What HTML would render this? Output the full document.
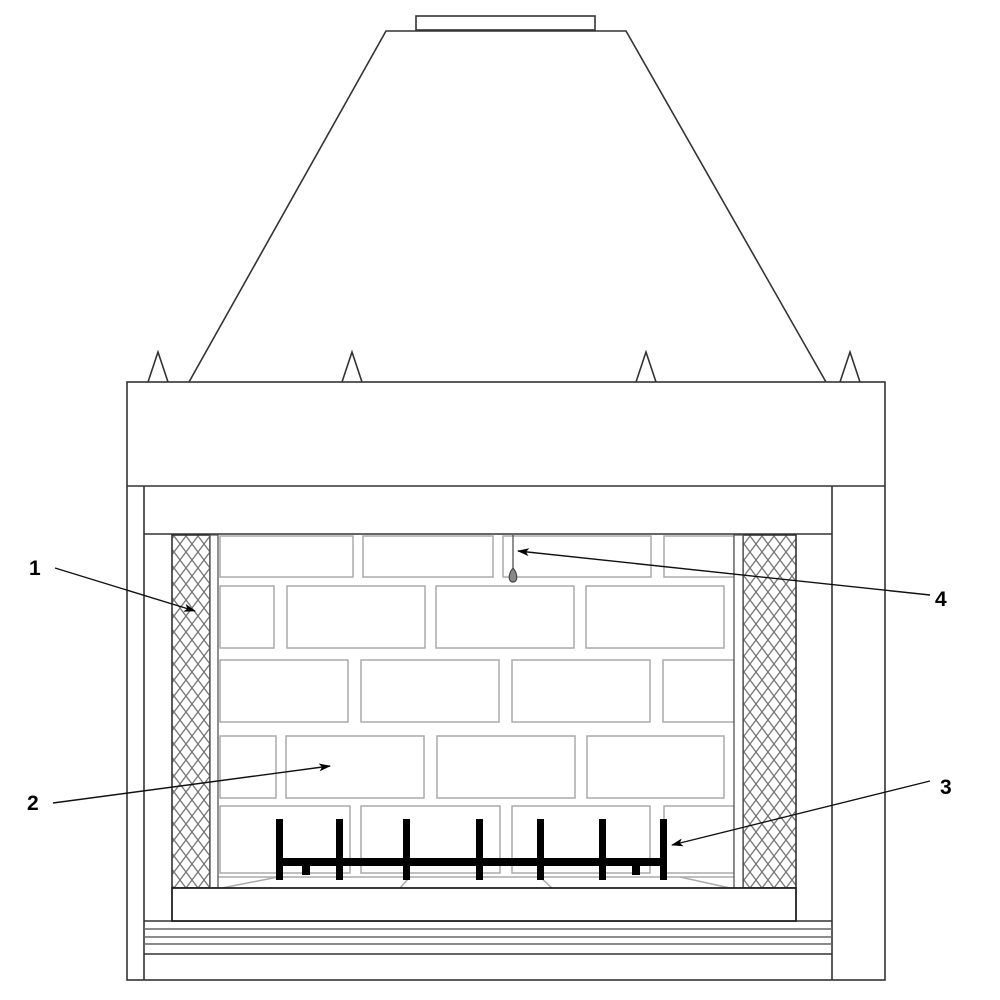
<!DOCTYPE html>
<html><head><meta charset="utf-8"><style>
html,body{margin:0;padding:0;background:#fff;width:1000px;height:1000px;overflow:hidden}
svg{display:block}
text{font-family:"Liberation Sans",Arial,sans-serif;font-weight:bold;font-size:21px;fill:#000}
</style></head><body>
<svg width="1000" height="1000" viewBox="0 0 1000 1000" xmlns="http://www.w3.org/2000/svg">
<defs>
<pattern id="hx" width="12" height="16" patternUnits="userSpaceOnUse">
<path d="M0,0 L12,16 M12,0 L0,16" stroke="#777" stroke-width="1.3" fill="none"/>
</pattern>
<marker id="ar" markerWidth="12" markerHeight="8" refX="11" refY="4" orient="auto" markerUnits="userSpaceOnUse">
<path d="M0,0 L12,4 L0,8 L3,4 z" fill="#000"/>
</marker>
</defs>
<g fill="none" stroke="#333" stroke-width="1.6">
<!-- hood -->
<rect x="416" y="16" width="179" height="14"/>
<path d="M189,382 L386,31 L626,31 L826,382"/>
<!-- spikes -->
<path d="M148,382 L158,352 L168,382 M342,382 L352,352 L362,382 M636,382 L646,352 L656,382 M840,382 L850,352 L860,382"/>
<!-- body -->
<rect x="127" y="382" width="758" height="598"/>
<line x1="127" y1="486" x2="885" y2="486"/>
<line x1="144" y1="486" x2="144" y2="980"/>
<line x1="832" y1="486" x2="832" y2="980"/>
<line x1="144" y1="534" x2="832" y2="534"/>
<!-- bottom lines -->
<line x1="144" y1="921" x2="832" y2="921"/>
<line x1="144" y1="929" x2="832" y2="929" stroke="#666"/>
<line x1="144" y1="937" x2="832" y2="937" stroke="#666"/>
<line x1="144" y1="944" x2="832" y2="944" stroke="#666"/>
<line x1="144" y1="954" x2="832" y2="954"/>
</g>
<!-- bricks -->
<g fill="none" stroke="#aaa" stroke-width="1.5">
<rect x="220" y="536" width="133" height="41"/><rect x="363" y="536" width="130" height="41"/><rect x="503" y="536" width="148" height="41"/><rect x="664" y="536" width="70" height="41"/>
<rect x="220" y="586" width="54" height="62"/><rect x="287" y="586" width="138" height="62"/><rect x="436" y="586" width="138" height="62"/><rect x="586" y="586" width="138" height="62"/>
<rect x="220" y="660" width="128" height="62"/><rect x="361" y="660" width="138" height="62"/><rect x="512" y="660" width="138" height="62"/><rect x="663" y="660" width="71" height="62"/>
<rect x="220" y="736" width="56" height="62"/><rect x="286" y="736" width="138" height="62"/><rect x="437" y="736" width="138" height="62"/><rect x="587" y="736" width="137" height="62"/>
<rect x="220" y="806" width="130" height="67"/><rect x="361" y="806" width="139" height="67"/><rect x="512" y="806" width="138" height="67"/><rect x="664" y="806" width="70" height="67"/>
<line x1="218" y1="877" x2="734" y2="877"/>
<path d="M222,888 L278,877 M400,888 L410,877 M540,877 L552,888 M680,877 L730,888" />
</g>
<!-- insulation -->
<rect x="172" y="535" width="38" height="353" fill="url(#hx)" stroke="#333" stroke-width="1.6"/>
<rect x="210" y="535" width="8" height="353" fill="#fff" stroke="#555" stroke-width="1.3"/>
<rect x="743" y="535" width="53" height="353" fill="url(#hx)" stroke="#333" stroke-width="1.6"/>
<rect x="734" y="535" width="9" height="353" fill="#fff" stroke="#555" stroke-width="1.3"/>
<!-- hearth slab -->
<rect x="172" y="888" width="624" height="33" fill="#fff" stroke="#222" stroke-width="1.8"/>
<!-- grate -->
<g fill="#000">
<rect x="278" y="858" width="386" height="8"/>
<rect x="276" y="819" width="7" height="61"/><rect x="336" y="819" width="7" height="61"/><rect x="403" y="819" width="7" height="61"/><rect x="476" y="819" width="7" height="61"/><rect x="537" y="819" width="7" height="61"/><rect x="599" y="819" width="7" height="61"/><rect x="660" y="819" width="7" height="61"/>
<rect x="302" y="864" width="8" height="11"/><rect x="632" y="864" width="8" height="11"/>
</g>
<!-- chain -->
<g stroke="#444" stroke-width="1.2" fill="none">
<line x1="513" y1="535" x2="513" y2="568"/>
<path d="M513,568 C508,574 508,582 513,582 C518,582 518,574 513,568 z" fill="#888"/>
</g>
<!-- leaders -->
<g stroke="#111" stroke-width="1.4" fill="none" marker-end="url(#ar)">
<line x1="55" y1="568" x2="195" y2="611"/>
<line x1="53" y1="803" x2="330" y2="766"/>
<line x1="930" y1="781" x2="672" y2="845"/>
<line x1="930" y1="595" x2="518" y2="551"/>
</g>
<text x="29" y="575">1</text>
<text x="27" y="810">2</text>
<text x="940" y="794">3</text>
<text x="935" y="606">4</text>
</svg>
</body></html>
